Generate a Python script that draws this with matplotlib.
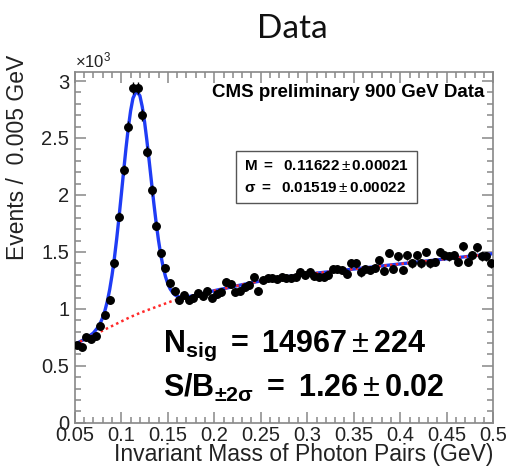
import numpy as np
import matplotlib
matplotlib.use("Agg")
import matplotlib.pyplot as plt
from matplotlib.ticker import MultipleLocator, FormatStrFormatter

# fonts: ROOT-like helvetica look
plt.rcParams['font.family'] = ['Liberation Sans', 'DejaVu Sans']
plt.rcParams['mathtext.fontset'] = 'custom'
plt.rcParams['mathtext.rm'] = 'Liberation Sans'
plt.rcParams['mathtext.bf'] = 'Liberation Sans:bold'
plt.rcParams['mathtext.it'] = 'Liberation Sans:italic'

# bin centres (0.005 GeV bins from 0.05 to 0.5), counts in units of 10^3
bin_lo = 0.05
bin_w = 0.005
events = [0.68, 0.67, 0.75, 0.74, 0.76, 0.85, 0.95, 1.08, 1.40, 1.81,
          2.22, 2.60, 2.94, 2.94, 2.70, 2.38, 2.04, 1.73, 1.49, 1.36,
          1.23, 1.16, 1.08, 1.12, 1.08, 1.10, 1.14, 1.11, 1.16, 1.10,
          1.13, 1.15, 1.24, 1.22, 1.15, 1.16, 1.19, 1.21, 1.28, 1.16,
          1.25, 1.27, 1.27, 1.26, 1.28, 1.27, 1.27, 1.28, 1.32, 1.30,
          1.32, 1.29, 1.28, 1.28, 1.30, 1.35, 1.35, 1.34, 1.31, 1.40,
          1.40, 1.32, 1.35, 1.34, 1.36, 1.43, 1.33, 1.49, 1.35, 1.46,
          1.34, 1.47, 1.40, 1.47, 1.40, 1.50, 1.40, 1.41, 1.50, 1.47,
          1.46, 1.47, 1.41, 1.55, 1.41, 1.47, 1.54, 1.46, 1.46, 1.40]

# background fit (red dotted)
bkg_x = [0.050, 0.055, 0.060, 0.065, 0.070, 0.075, 0.080, 0.085, 0.090, 0.095,
         0.100, 0.105, 0.110, 0.116, 0.120, 0.125, 0.130, 0.135, 0.140, 0.145,
         0.150, 0.155, 0.160, 0.165, 0.170, 0.180, 0.200, 0.220, 0.240, 0.260,
         0.280, 0.300, 0.350, 0.400, 0.450, 0.500]
bkg_y = [0.690, 0.710, 0.730, 0.750, 0.770, 0.790, 0.810, 0.830, 0.850, 0.870,
         0.890, 0.910, 0.930, 0.950, 0.965, 0.980, 0.995, 1.010, 1.025, 1.040,
         1.055, 1.070, 1.080, 1.090, 1.100, 1.120, 1.160, 1.195, 1.230, 1.260,
         1.285, 1.305, 1.350, 1.395, 1.440, 1.485]

# signal + background fit (blue)
fit_x = [0.050, 0.055, 0.060, 0.065, 0.070, 0.075, 0.0775, 0.080, 0.0825, 0.085,
         0.0875, 0.090, 0.0925, 0.095, 0.0975, 0.100, 0.1025, 0.105, 0.1075, 0.110,
         0.1125, 0.1162, 0.120, 0.1225, 0.125, 0.1275, 0.130, 0.1325, 0.135, 0.1375,
         0.140, 0.1425, 0.145, 0.1475, 0.150, 0.1525, 0.155, 0.1575, 0.160, 0.165,
         0.170, 0.180, 0.200, 0.220, 0.240, 0.260, 0.280, 0.300, 0.350, 0.400,
         0.450, 0.500]
fit_y = [0.690, 0.710, 0.732, 0.758, 0.789, 0.840, 0.877, 0.925, 0.988, 1.069,
         1.170, 1.295, 1.442, 1.613, 1.802, 2.003, 2.209, 2.408, 2.588, 2.738,
         2.848, 2.915, 2.870, 2.775, 2.642, 2.478, 2.296, 2.109, 1.925, 1.754,
         1.602, 1.473, 1.366, 1.284, 1.221, 1.176, 1.146, 1.124, 1.111, 1.101,
         1.104, 1.120, 1.160, 1.195, 1.230, 1.260, 1.285, 1.305, 1.350, 1.395,
         1.440, 1.485]

mass = bin_lo + bin_w * (np.arange(len(events)) + 0.5)
ev = np.array(events)
err = np.sqrt(ev * 1000) / 1000

fig = plt.figure(figsize=(5.09, 4.73), dpi=100, facecolor='white')
ax = fig.add_axes([0.147, 0.106, 0.822, 0.742])

ax.plot(fit_x, fit_y, color='#1f3cf5', lw=2.4, zorder=2)
ax.plot(bkg_x, bkg_y, color='#ff2a2a', lw=1.8, ls=(0, (1, 1.3)), zorder=3)
ax.errorbar(mass, ev, yerr=err, fmt='o', color='black', ms=5.4, elinewidth=1,
            capsize=0, zorder=4)

ax.set_xlim(0.05, 0.5)
ax.set_ylim(0, 3.08)

# ROOT style axes
frame_col = '#888888'
for s in ax.spines.values():
    s.set_color(frame_col)
    s.set_linewidth(1.2)
ax.xaxis.set_major_locator(MultipleLocator(0.05))
ax.xaxis.set_minor_locator(MultipleLocator(0.01))
ax.yaxis.set_major_locator(MultipleLocator(0.5))
ax.yaxis.set_minor_locator(MultipleLocator(0.1))
ax.xaxis.set_major_formatter(FormatStrFormatter('%g'))
ax.yaxis.set_major_formatter(FormatStrFormatter('%g'))
ax.tick_params(which='both', direction='in', top=True, right=True,
               color=frame_col, width=1.1, labelsize=14.5, labelcolor='#222222')
ax.tick_params(which='major', length=8)
ax.tick_params(axis='x', which='major', pad=2)
ax.tick_params(axis='y', which='major', pad=4)
ax.tick_params(which='minor', length=4)

ax.set_xlabel('Invariant Mass of Photon Pairs (GeV)', fontsize=16.5,
              ha='right', x=1.0, labelpad=-1, color='#222222')
fig.text(0.034, 0.885, 'Events /  0.005 GeV', rotation=90, fontsize=16.5,
         ha='center', va='top', color='#222222')
fig.text(0.147, 0.852, r'$\times$10$^{3}$', fontsize=12, ha='left', va='bottom',
         color='#222222')

fig.suptitle('Data', fontsize=24, y=0.97, x=0.575, family=['Lato', 'DejaVu Sans'],
             color='#111111')

ax.text(0.98, 0.965, 'CMS preliminary 900 GeV Data', transform=ax.transAxes,
        fontsize=13.5, fontweight='bold', ha='right', va='top')

ax.text(0.405, 0.70, r'$\mathbf{M\ =\ \ 0.11622}\pm\mathbf{0.00021}$' + '\n' +
        r'$\mathbf{\sigma\ =\ \ 0.01519}\pm\mathbf{0.00022}$',
        transform=ax.transAxes, fontsize=11, ha='left', va='center',
        linespacing=1.7,
        bbox=dict(boxstyle='square,pad=0.55', fc='white', ec='#555555', lw=1))

ax.text(0.21, 0.22, r'$\mathbf{N_{sig}\ =\ 14967}\pm\mathbf{224}$',
        transform=ax.transAxes, fontsize=22, ha='left', va='center')
ax.text(0.21, 0.1, r'$\mathbf{S/B_{\pm 2\sigma}\ =\ 1.26}\pm\mathbf{0.02}$',
        transform=ax.transAxes, fontsize=22, ha='left', va='center')

fig.savefig('out.png', dpi=100, facecolor='white')
